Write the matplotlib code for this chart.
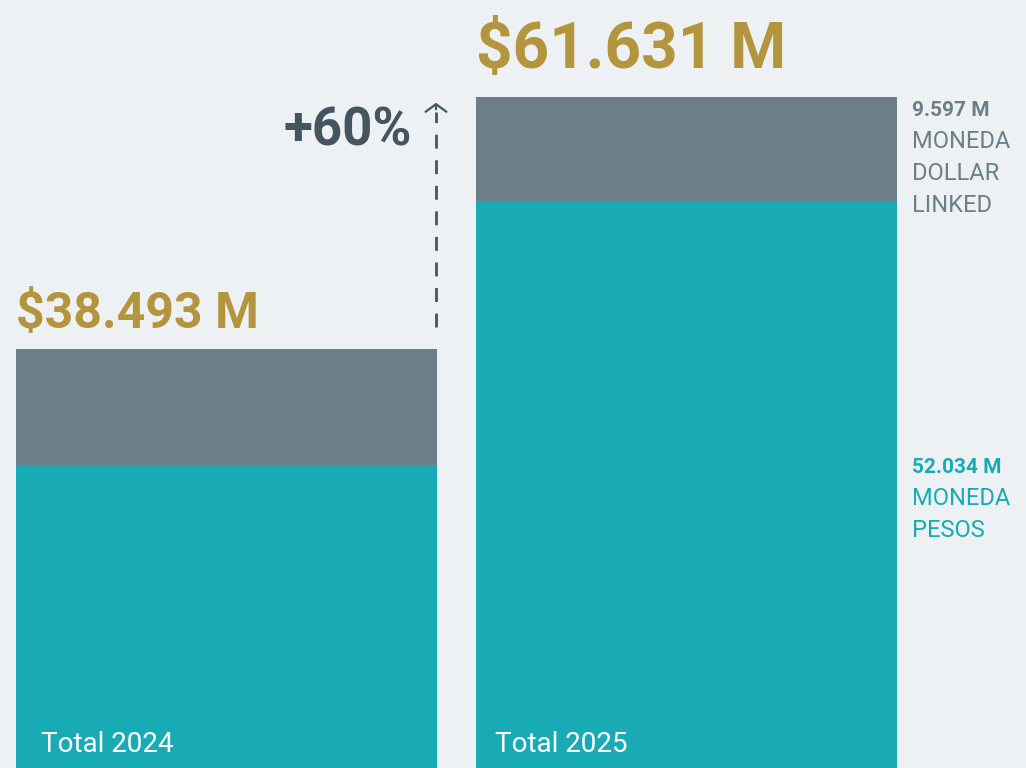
import matplotlib
matplotlib.use("Agg")
import matplotlib.pyplot as plt
from matplotlib import font_manager as fm

years = ["Total 2024", "Total 2025"]
pesos = [27.84, 52.034]
dollar = [10.653, 9.597]
totals = ["$38.493 M", "$61.631 M"]
growth_label = "+60%"
seg_labels_2025 = ["9.597 M", "52.034 M"]
seg_names_2025 = [["MONEDA", "DOLLAR", "LINKED"], ["MONEDA", "PESOS"]]

def pick(names):
    for n in names:
        try:
            fm.findfont(fm.FontProperties(family=n), fallback_to_default=False)
            return n
        except Exception:
            pass
    return "DejaVu Sans"

FONT = pick(["Liberation Sans Narrow", "Roboto", "Liberation Sans"])
plt.rcParams['font.family'] = [FONT, 'DejaVu Sans']

BG = "#edf1f4"
TEAL = "#19abb5"
GRAY = "#6c7e88"
GOLD = "#b2953c"
DARK = "#44555f"

fig = plt.figure(figsize=(10.26, 7.68), dpi=100, facecolor=BG)
ax = fig.add_axes([0, 0, 1, 1], facecolor=BG)
PXX = 460.0
PXY = 671.0 / 61.631
X0 = 226.5
ax.set_xlim(-X0 / PXX, (1026 - X0) / PXX)
ax.set_ylim(0, 768 / PXY)
ax.axis("off")

def px(xp):
    return (xp - X0) / PXX

def py(yp):
    return (768 - yp) / PXY

x = [0, 1]
w = 421 / PXX
ax.bar(x, pesos, width=w, color=TEAL, linewidth=0)
ax.bar(x, dollar, bottom=pesos, width=w, color=GRAY, linewidth=0)

sizes = [36, 46]
base_px = [328, 68]
year_off = [25, 19]
for i in range(2):
    ax.text(x[i] - w / 2, py(base_px[i]), totals[i], ha="left", va="baseline",
            fontsize=sizes[i], fontweight="bold", color=GOLD)
    ax.text(x[i] - w / 2 + year_off[i] / PXX, py(752), years[i], color="white",
            fontsize=20, ha="left", va="baseline")

# growth arrow
ax_x = px(436)
ax.plot([ax_x, ax_x], [py(327), py(112)], color=DARK, lw=2, dashes=(5, 4.2))
ax.annotate("", xy=(ax_x, py(100)), xytext=(ax_x, py(112)),
            arrowprops=dict(arrowstyle="->,head_length=0.55,head_width=0.75",
                            color=DARK, lw=1.6))
ax.text(px(412), py(146), growth_label, color=DARK,
        fontsize=38, fontweight="bold", ha="right", va="baseline")

# right labels for 2025
lx = px(912)
colors = [GRAY, TEAL]
label_base = [116, 473]
for j in range(2):
    ax.text(lx, py(label_base[j]), seg_labels_2025[j], color=colors[j], fontsize=15,
            fontweight="bold", ha="left", va="baseline")
    for k, line in enumerate(seg_names_2025[j]):
        ax.text(lx, py(label_base[j] + 32 * (k + 1)), line, color=colors[j],
                fontsize=17, ha="left", va="baseline")

fig.savefig("out.png", dpi=100, facecolor=BG)
